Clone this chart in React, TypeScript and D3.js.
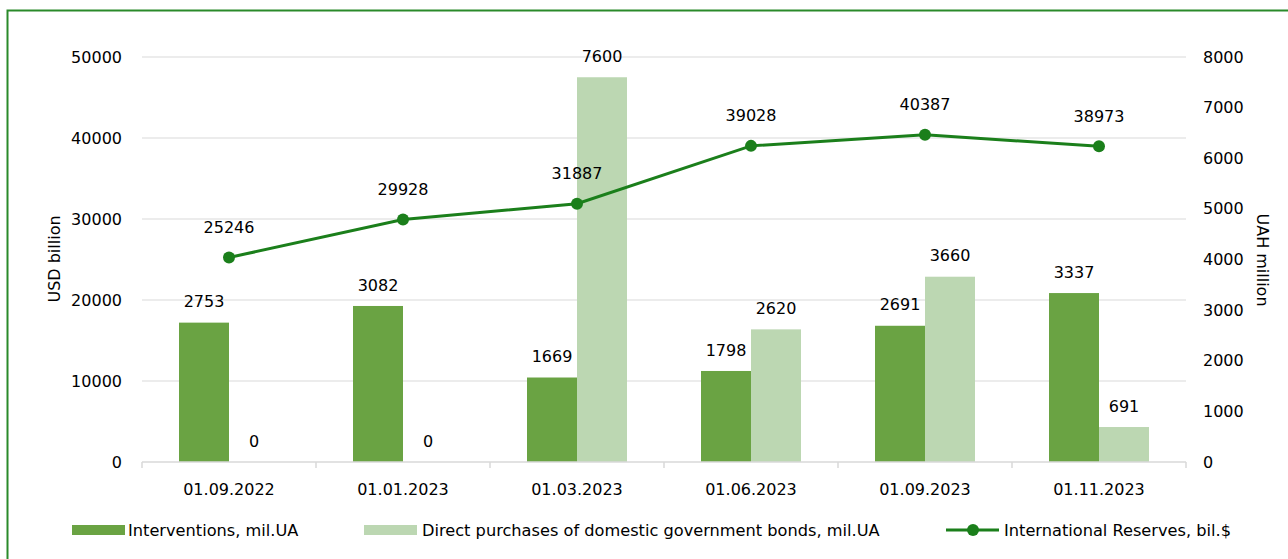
import { useEffect, useRef } from 'react'
import * as d3 from 'd3'

const dates = ['01.09.2022', '01.01.2023', '01.03.2023', '01.06.2023', '01.09.2023', '01.11.2023']
const interventions = [2753, 3082, 1669, 1798, 2691, 3337]
const purchases = [0, 0, 7600, 2620, 3660, 691]
const reserves = [25246, 29928, 31887, 39028, 40387, 38973]
const leftTicks = [0, 10000, 20000, 30000, 40000, 50000]
const rightTicks = [0, 1000, 2000, 3000, 4000, 5000, 6000, 7000, 8000]

const W = 1288, H = 559
const FONT = 'DejaVu Sans, sans-serif'
const C_DARK = '#6aa343', C_LIGHT = '#bcd7b2', C_LINE = '#1b7f1b'

export default function App() {
  const svgRef = useRef<SVGSVGElement>(null)

  useEffect(() => {
    const svg = d3.select(svgRef.current)
    svg.selectAll('*').remove()

    const left = 142, right = 1186, top = 57, bottom = 462
    const x = d3.scaleBand<string>().domain(dates).range([left, right])
    const yL = d3.scaleLinear([0, 50000], [bottom, top])
    const yR = d3.scaleLinear([0, 8000], [bottom, top])
    const barW = 50
    const txt = (xx: number, yy: number, s: string | number, anchor = 'middle', size = 16) =>
      svg.append('text').attr('x', xx).attr('y', yy).attr('dy', '0.35em')
        .attr('text-anchor', anchor).attr('font-size', size).attr('font-family', FONT).attr('fill', '#000').text(s)

    // outer frame
    svg.append('rect').attr('x', 7.5).attr('y', 10.5).attr('width', W + 20).attr('height', H + 20)
      .attr('fill', 'none').attr('stroke', '#2a8a2a').attr('stroke-width', 2)

    // grid
    leftTicks.slice(1).forEach(t => {
      svg.append('line').attr('x1', left).attr('x2', right).attr('y1', yL(t)).attr('y2', yL(t))
        .attr('stroke', '#d9d9d9').attr('stroke-width', 1.2)
    })

    leftTicks.forEach(t => txt(122, yL(t), t, 'end'))
    rightTicks.forEach(t => txt(1203, yR(t), t, 'start'))

    svg.append('text').attr('transform', `translate(60,259) rotate(-90)`).attr('text-anchor', 'middle')
      .attr('font-size', 16).attr('font-family', FONT).text('USD billion')
    svg.append('text').attr('transform', `translate(1257,260) rotate(90)`).attr('text-anchor', 'middle')
      .attr('font-size', 16).attr('font-family', FONT).text('UAH million')

    // bars
    dates.forEach((d, i) => {
      const cx = x(d)! + x.bandwidth() / 2
      svg.append('rect').attr('x', cx - barW).attr('y', yR(interventions[i]))
        .attr('width', barW).attr('height', bottom - yR(interventions[i])).attr('fill', C_DARK)
      svg.append('rect').attr('x', cx).attr('y', yR(purchases[i]))
        .attr('width', barW).attr('height', bottom - yR(purchases[i])).attr('fill', C_LIGHT)
      txt(cx - barW / 2, yR(interventions[i]) - 21, interventions[i])
      txt(cx + barW / 2, yR(purchases[i]) - 21, purchases[i])
    })

    // x axis
    svg.append('line').attr('x1', left).attr('x2', right).attr('y1', bottom).attr('y2', bottom)
      .attr('stroke', '#d9d9d9').attr('stroke-width', 1.5)
    d3.range(dates.length + 1).forEach(i => {
      const xx = left + i * x.bandwidth()
      svg.append('line').attr('x1', xx).attr('x2', xx).attr('y1', bottom).attr('y2', bottom + 6)
        .attr('stroke', '#d9d9d9').attr('stroke-width', 1.5)
    })
    dates.forEach(d => txt(x(d)! + x.bandwidth() / 2, 489, d))

    // line
    const line = d3.line<number>().x((_, i) => x(dates[i])! + x.bandwidth() / 2).y(v => yL(v))
    svg.append('path').datum(reserves).attr('d', line).attr('fill', 'none')
      .attr('stroke', C_LINE).attr('stroke-width', 3)
    reserves.forEach((v, i) => {
      const cx = x(dates[i])! + x.bandwidth() / 2
      svg.append('circle').attr('cx', cx).attr('cy', yL(v)).attr('r', 6).attr('fill', C_LINE)
      txt(cx, yL(v) - 30, v)
    })

    // legend
    const ly = 530
    svg.append('rect').attr('x', 72).attr('y', ly - 5).attr('width', 53).attr('height', 10).attr('fill', C_DARK)
    txt(128, ly, 'Interventions, mil.UA', 'start', 16.2)
    svg.append('rect').attr('x', 364).attr('y', ly - 5).attr('width', 53).attr('height', 10).attr('fill', C_LIGHT)
    txt(422, ly, 'Direct purchases of domestic government bonds, mil.UA', 'start', 16.2)
    svg.append('line').attr('x1', 946).attr('x2', 999).attr('y1', ly).attr('y2', ly)
      .attr('stroke', C_LINE).attr('stroke-width', 3)
    svg.append('circle').attr('cx', 973).attr('cy', ly).attr('r', 6).attr('fill', C_LINE)
    txt(1004, ly, 'International Reserves, bil.$', 'start', 16.2)
  }, [])

  return (
    <svg ref={svgRef} width={W} height={H}
      style={{ position: 'fixed', left: 0, top: 0, background: '#fff', overflow: 'hidden' }} />
  )
}
